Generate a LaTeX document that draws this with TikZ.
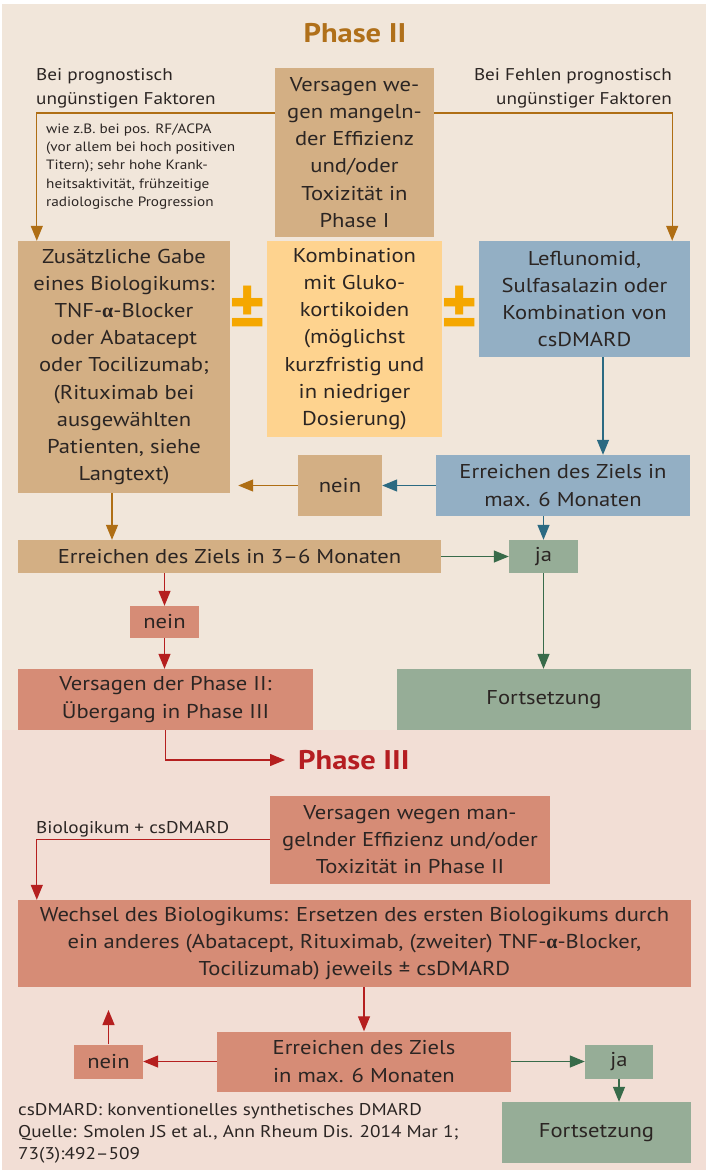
\documentclass[tikz,border=0pt]{standalone}
\usepackage{fontspec}
\setmainfont[FakeStretch=1.13]{PT Sans}
\newfontfamily\grkfont{Liberation Serif}
\usetikzlibrary{arrows.meta}
\definecolor{bgA}{HTML}{F1E6DA}
\definecolor{bgB}{HTML}{F2DED5}
\definecolor{cTan}{HTML}{D3AF84}
\definecolor{cYel}{HTML}{FED38F}
\definecolor{cBlue}{HTML}{93AFC4}
\definecolor{cGreen}{HTML}{96AD97}
\definecolor{cRed}{HTML}{D68C76}
\definecolor{aBrown}{HTML}{AF6E14}
\definecolor{aBlue}{HTML}{2B6A82}
\definecolor{aRed}{HTML}{B51F1F}
\definecolor{aGreen}{HTML}{386B4A}
\definecolor{tPhII}{HTML}{B0701A}
\definecolor{tPhIII}{HTML}{B51D21}
\definecolor{cPM}{HTML}{F5A700}
\definecolor{txt}{HTML}{2B2523}
\newcommand\mainfs{\fontsize{20}{27.2}\selectfont}
\newcommand\lblfs{\fontsize{17}{24}\selectfont}
\newcommand\tinyfs{\fontsize{13.5}{18.4}\selectfont}
\newcommand\footfs{\fontsize{17}{22}\selectfont}
\newcommand\alphachar{{\grkfont\bfseries α}}
\tikzset{
  box/.style={inner sep=0pt, text=txt, align=center, font=\mainfs},
  wh/.style 2 args={minimum width=#1pt, minimum height=#2pt},
  lbl/.style={inner sep=0pt, text=txt, font=\lblfs},
  conn/.style={line width=1.3pt, -{Triangle[length=15pt,width=12pt]}},
  brarrow/.style={conn, draw=aBrown},
  blarrow/.style={conn, draw=aBlue},
  rdarrow/.style={conn, draw=aRed},
  gnarrow/.style={conn, draw=aGreen},
  title/.style={inner sep=0pt, font=\fontsize{27}{27}\selectfont\bfseries},
  pm/.style={inner sep=0pt, text=cPM, font=\fontsize{58}{58}\selectfont\bfseries},
}
\begin{document}
\begin{tikzpicture}[x=1pt,y=-1pt]
\useasboundingbox (0,0) rectangle (706,1170);
\fill[white] (0,0) rectangle (706,1170);
\fill[bgA] (2,4) rectangle (706,730);
\fill[bgB] (2,730) rectangle (706,1170);

% Phase II
\node[title, text=tPhII] (p2) at (355,33) {Phase II};
\node[box, fill=cTan, wh={159}{169}] (v1) at (354.5,152.5) {Versagen we-\\gen mangeln-\\der Effizienz\\und/oder\\Toxizität in\\Phase I};
\node[lbl, anchor=west, align=left] (lp) at (36,88) {Bei prognostisch\\ungünstigen Faktoren};
\node[lbl, anchor=east, align=right] (rp) at (672,88) {Bei Fehlen prognostisch\\ungünstiger Faktoren};
\node[inner sep=0pt, text=txt, font=\tinyfs, anchor=west, align=left] (wz) at (46,166.5) {wie z.B. bei pos. RF/ACPA\\(vor allem bei hoch positiven\\Titern); sehr hohe Krank-\\heitsaktivität, frühzeitige\\radiologische Progression};

\node[box, fill=cTan, wh={212}{252}] (a) at (124,367) {Zusätzliche Gabe\\eines Biologikums:\\TNF-\alphachar-Blocker\\oder Abatacept\\oder Tocilizumab;\\(Rituximab bei\\ausgewählten\\Patienten, siehe\\Langtext)};
\node[box, fill=cYel, wh={175}{196}] (k) at (354.5,339) {Kombination\\mit Gluko-\\kortikoiden\\(möglichst\\kurzfristig und\\in niedriger\\Dosierung)};
\node[box, fill=cBlue, wh={211}{116}] (l) at (584.5,299) {Leflunomid,\\Sulfasalazin oder\\Kombination von\\csDMARD};
\node[pm] (pm1) at (248,312) {\scalebox{1.05}[1.3]{±}};
\node[pm] (pm2) at (460,312) {\scalebox{1.05}[1.3]{±}};

\node[box, fill=cBlue, wh={254}{61}] (e6) at (563,485.5) {Erreichen des Ziels in\\max. 6 Monaten};
\node[box, fill=cTan, wh={84}{61}] (n1) at (340,485.5) {nein};
\node[box, fill=cTan, wh={423}{33}] (e36) at (229.5,556.5) {Erreichen des Ziels in 3–6 Monaten};
\node[box, fill=cGreen, wh={69}{33}] (j1) at (543.5,556.5) {ja};
\node[box, fill=cRed, wh={69}{32}] (n2) at (164.5,622) {nein};
\node[box, fill=cRed, wh={295}{61}] (v2) at (165.5,699.5) {Versagen der Phase II:\\Übergang in Phase III};
\node[box, fill=cGreen, wh={294}{61}] (f1) at (544,699.5) {Fortsetzung};

\draw[brarrow] ([yshift=39.5pt]v1.west) -| ([xshift=19pt]a.north west);
\draw[brarrow] ([yshift=39.5pt]v1.east) -| ([xshift=-18pt]l.north east);
\draw[blarrow] ([xshift=18.5pt]l.south) -- ([xshift=18.5pt]l.south |- e6.north);
\draw[blarrow] (e6.west) -- (n1.east);
\draw[brarrow, shorten >=8pt] (n1.west) -- (a.east |- n1.west);
\draw[brarrow] ([xshift=-12pt]a.south) -- ([xshift=-12pt]a.south |- e36.north);
\draw[blarrow] (j1.north |- e6.south) -- (j1.north);
\draw[gnarrow] (e36.east) -- (j1.west);
\draw[gnarrow] (j1.south) -- (j1.south |- f1.north);
\draw[rdarrow] (n2.north |- e36.south) -- (n2.north);
\draw[rdarrow] (n2.south) -- (n2.south |- v2.north);

% Phase III
\node[title, text=tPhIII, anchor=west] (p3) at (298,760) {Phase III};
\draw[rdarrow, shorten >=13pt] (v2.south) |- (p3.west);
\node[box, fill=cRed, wh={280}{88}] (v3) at (410,839.5) {Versagen wegen man-\\gelnder Effizienz und/oder\\Toxizität in Phase II};
\node[lbl, anchor=west] (bl) at (36,829) {Biologikum + csDMARD};
\node[box, fill=cRed, wh={673}{87}] (w) at (354.5,943.5) {Wechsel des Biologikums: Ersetzen des ersten Biologikums durch\\ein anderes (Abatacept, Rituximab, (zweiter) TNF-\alphachar-Blocker,\\Tocilizumab) jeweils ± csDMARD};
\node[box, fill=cRed, wh={294}{60}] (e6b) at (364,1061.5) {Erreichen des Ziels\\in max. 6 Monaten};
\node[box, fill=cRed, wh={69}{34}] (n3) at (108.5,1061.5) {nein};
\node[box, fill=cGreen, wh={68}{34}] (j2) at (619,1061.5) {ja};
\node[box, fill=cGreen, wh={189}{61}] (f2) at (596.5,1132.5) {Fortsetzung};
\coordinate (up) at (108.5,1010);
\node[inner sep=0pt, text=txt, font=\footfs, anchor=west, align=left] (fn) at (18,1133.5) {csDMARD: konventionelles synthetisches DMARD\\Quelle: Smolen JS et al., Ann Rheum Dis. 2014 Mar 1;\\73(3):492–509};

\draw[rdarrow] (v3.west) -| ([xshift=19pt]w.north west);
\draw[rdarrow] (w.south -| e6b.north) -- (e6b.north);
\draw[rdarrow] (e6b.west) -- (n3.east);
\draw[rdarrow] (n3.north) -- (up);
\draw[gnarrow] (e6b.east) -- (j2.west);
\draw[gnarrow] (j2.south) -- (j2.south |- f2.north);
\end{tikzpicture}
\end{document}
